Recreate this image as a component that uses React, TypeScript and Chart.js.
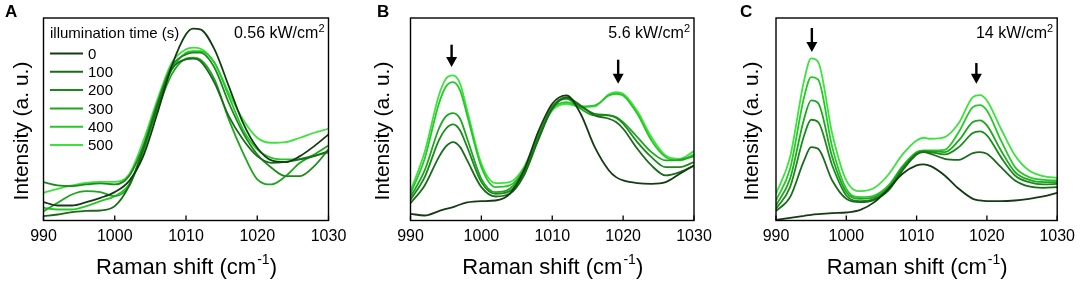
import React, { useEffect, useRef } from "react";
import { Chart, registerables } from "chart.js";
Chart.register(...registerables);

// ---------- shared ----------
const TIMES = ["0", "100", "200", "300", "400", "500"];
const COLORS = ["#143c14", "#1a6b1a", "#1b8a1b", "#1ea61e", "#26c826", "#3be33b"];
const X_MIN = 990;
const X_MAX = 1030;
const X_STEP = 10;
const Y_MAX = 607;
const LEGEND_TITLE = "illumination time (s)";
const X_TITLE = "Raman shift (cm";
const X_TITLE_SUP = "-1";
const Y_TITLE = "Intensity (a. u.)";

// ---------- panel A : 0.56 kW/cm2 ----------
const A_X = [990, 992, 994, 996, 998, 1000, 1002, 1004, 1006, 1008, 1010, 1011, 1012, 1014, 1016, 1018, 1020, 1022, 1024, 1026, 1028, 1030];
const A_T0 = [55, 45, 45, 55, 68, 85, 118, 193, 323, 463, 558, 575, 573, 513, 403, 293, 218, 180, 175, 193, 223, 258];
const A_T100 = [13, 18, 25, 29, 30, 43, 103, 213, 343, 453, 483, 485, 478, 413, 313, 243, 193, 173, 176, 183, 193, 208];
const A_T200 = [115, 105, 103, 108, 111, 108, 133, 223, 353, 463, 498, 503, 503, 458, 353, 263, 198, 158, 133, 133, 163, 213];
const A_T300 = [28, 53, 78, 88, 85, 73, 103, 213, 333, 438, 485, 488, 483, 423, 303, 203, 123, 108, 133, 173, 198, 225];
const A_T400 = [38, 33, 33, 43, 58, 73, 108, 203, 343, 453, 503, 508, 508, 473, 373, 273, 213, 188, 183, 185, 195, 203];
const A_T500 = [83, 95, 105, 113, 116, 116, 138, 238, 363, 473, 513, 518, 515, 473, 383, 303, 248, 233, 235, 248, 263, 275];

// ---------- panel B : 5.6 kW/cm2 ----------
const B_X = [990, 992, 994, 995, 996, 997, 998, 1000, 1002, 1004, 1006, 1008, 1010, 1012, 1014, 1016, 1018, 1019, 1020, 1022, 1024, 1026, 1028, 1030];
const B_T0 = [20, 15, 28, 35, 40, 48, 54, 58, 60, 80, 150, 265, 350, 375, 320, 220, 150, 130, 120, 112, 110, 115, 140, 165];
const B_T100 = [52, 105, 190, 222, 235, 220, 180, 100, 72, 80, 135, 240, 335, 368, 345, 315, 305, 295, 275, 215, 165, 135, 145, 165];
const B_T200 = [62, 130, 240, 275, 288, 270, 220, 115, 80, 88, 140, 245, 338, 370, 342, 320, 315, 308, 290, 235, 190, 160, 160, 175];
const B_T300 = [70, 150, 275, 312, 322, 305, 245, 125, 85, 95, 150, 252, 342, 365, 335, 315, 315, 310, 295, 250, 205, 180, 182, 192];
const B_T400 = [80, 185, 350, 402, 415, 390, 315, 160, 100, 105, 155, 255, 335, 355, 342, 345, 375, 380, 375, 320, 240, 190, 180, 198];
const B_T500 = [88, 205, 375, 425, 435, 410, 330, 170, 112, 115, 160, 255, 330, 350, 340, 342, 378, 385, 380, 328, 250, 195, 185, 208];
const B_ARROW_X = [995.8, 1019.3];
const B_ARROW_TOP = [527, 482];
const B_ARROW_TIP = [460, 410];

// ---------- panel C : 14 kW/cm2 ----------
const C_X = [990, 992, 994, 995, 996, 998, 1000, 1002, 1004, 1006, 1008, 1010, 1011, 1012, 1014, 1016, 1018, 1019, 1020, 1022, 1024, 1026, 1028, 1030];
const C_T0 = [2, 8, 14, 17, 19, 22, 24, 32, 55, 95, 140, 165, 168, 163, 135, 95, 65, 60, 58, 58, 60, 65, 72, 83];
const C_T100 = [28, 70, 180, 220, 215, 120, 65, 55, 62, 90, 150, 198, 205, 200, 185, 182, 202, 205, 200, 160, 120, 102, 98, 100];
const C_T200 = [35, 100, 255, 302, 295, 165, 75, 58, 65, 95, 155, 200, 207, 205, 198, 220, 262, 267, 255, 190, 135, 115, 108, 110];
const C_T300 = [45, 125, 305, 360, 352, 190, 85, 65, 70, 100, 160, 202, 208, 207, 205, 240, 295, 300, 285, 210, 145, 122, 115, 115];
const C_T400 = [60, 155, 370, 430, 422, 220, 95, 70, 75, 105, 163, 205, 210, 210, 212, 265, 340, 346, 330, 240, 160, 130, 122, 120];
const C_T500 = [80, 190, 420, 486, 475, 260, 120, 88, 98, 138, 198, 240, 248, 245, 250, 292, 370, 376, 360, 275, 195, 150, 133, 128];
const C_ARROW_X = [995.1, 1018.5];
const C_ARROW_TOP = [577, 472];
const C_ARROW_TIP = [505, 410];

const FONT = '"Liberation Sans", Arial, Helvetica, sans-serif';

type Panel = {
  letter: string;
  power: string;
  xs: number[];
  series: number[][];
  arrowX: number[];
  arrowTop: number[];
  arrowTip: number[];
  legend: boolean;
  left: number;
  width: number;
  padLeft: number;
  padRight: number;
  letterX: number;
  yTitleX: number;
};

const PANELS: Panel[] = [
  {
    letter: "A", power: "0.56 kW/cm", xs: A_X,
    series: [A_T0, A_T100, A_T200, A_T300, A_T400, A_T500],
    arrowX: [], arrowTop: [], arrowTip: [], legend: true,
    left: 0, width: 360, padLeft: 43.5, padRight: 31.5, letterX: 5, yTitleX: 22,
  },
  {
    letter: "B", power: "5.6 kW/cm", xs: B_X,
    series: [B_T0, B_T100, B_T200, B_T300, B_T400, B_T500],
    arrowX: B_ARROW_X, arrowTop: B_ARROW_TOP, arrowTip: B_ARROW_TIP, legend: false,
    left: 360, width: 360, padLeft: 50.5, padRight: 26, letterX: 17, yTitleX: 23,
  },
  {
    letter: "C", power: "14 kW/cm", xs: C_X,
    series: [C_T0, C_T100, C_T200, C_T300, C_T400, C_T500],
    arrowX: C_ARROW_X, arrowTop: C_ARROW_TOP, arrowTip: C_ARROW_TIP, legend: false,
    left: 720, width: 361, padLeft: 56, padRight: 20, letterX: 20, yTitleX: 32,
  },
];

function decorPlugin(p: Panel) {
  return {
    id: "decor",
    afterDraw(chart: any) {
      const { ctx, chartArea: a, scales } = chart;
      const xs = scales.x;
      const ys = scales.y;
      ctx.save();
      // frame
      ctx.strokeStyle = "#000";
      ctx.lineWidth = 1.4;
      ctx.strokeRect(a.left, a.top, a.right - a.left, a.bottom - a.top);
      // inward tick marks
      ctx.lineWidth = 1.3;
      for (const t of xs.ticks) {
        const px = xs.getPixelForValue(t.value);
        ctx.beginPath();
        ctx.moveTo(px, a.bottom);
        ctx.lineTo(px, a.bottom - 5);
        ctx.stroke();
      }
      ctx.fillStyle = "#000";
      // x title with superscript
      ctx.textBaseline = "alphabetic";
      ctx.textAlign = "left";
      ctx.font = `22px ${FONT}`;
      const w1 = ctx.measureText(X_TITLE).width;
      const w3 = ctx.measureText(")").width;
      ctx.font = `14px ${FONT}`;
      const w2 = ctx.measureText(X_TITLE_SUP).width;
      const x0 = (a.left + a.right) / 2 - (w1 + w2 + w3) / 2;
      const base = 274;
      ctx.font = `22px ${FONT}`;
      ctx.fillText(X_TITLE, x0, base);
      ctx.font = `14px ${FONT}`;
      ctx.fillText(X_TITLE_SUP, x0 + w1 + 1, base - 10);
      ctx.font = `22px ${FONT}`;
      ctx.fillText(")", x0 + w1 + w2 + 1, base);
      // y title
      ctx.save();
      ctx.translate(p.yTitleX, 131);
      ctx.rotate(-Math.PI / 2);
      ctx.textAlign = "center";
      ctx.textBaseline = "middle";
      ctx.font = `21px ${FONT}`;
      ctx.fillText(Y_TITLE, 0, 0);
      ctx.restore();
      // panel letter
      ctx.font = `bold 17px ${FONT}`;
      ctx.textAlign = "left";
      ctx.textBaseline = "alphabetic";
      ctx.fillText(p.letter, p.letterX, 17);
      // power label
      ctx.font = `11px ${FONT}`;
      const ws = ctx.measureText("2").width;
      ctx.font = `16px ${FONT}`;
      const wp = ctx.measureText(p.power).width;
      const pr = a.right - 4;
      ctx.fillText(p.power, pr - ws - wp, 38);
      ctx.font = `11px ${FONT}`;
      ctx.fillText("2", pr - ws, 32);
      // legend
      if (p.legend) {
        ctx.font = `15px ${FONT}`;
        ctx.textBaseline = "middle";
        ctx.fillText(LEGEND_TITLE, 50, 34);
        chart.data.datasets.forEach((ds: any, i: number) => {
          const y = 53.5 + 18.3 * i;
          ctx.strokeStyle = ds.borderColor;
          ctx.lineWidth = 2;
          ctx.beginPath();
          ctx.moveTo(50, y);
          ctx.lineTo(83, y);
          ctx.stroke();
          ctx.fillStyle = "#000";
          ctx.fillText(ds.label, 88, y + 1);
        });
      }
      // arrows
      ctx.strokeStyle = "#000";
      ctx.fillStyle = "#000";
      p.arrowX.forEach((ax, i) => {
        const px = xs.getPixelForValue(ax);
        const yt = ys.getPixelForValue(p.arrowTop[i]);
        const yb = ys.getPixelForValue(p.arrowTip[i]);
        ctx.lineWidth = 2.4;
        ctx.beginPath();
        ctx.moveTo(px, yt);
        ctx.lineTo(px, yb - 6);
        ctx.stroke();
        ctx.beginPath();
        ctx.moveTo(px - 5.5, yb - 10);
        ctx.lineTo(px + 5.5, yb - 10);
        ctx.lineTo(px, yb);
        ctx.closePath();
        ctx.fill();
      });
      ctx.restore();
    },
  };
}

function PanelChart({ p }: { p: Panel }) {
  const ref = useRef<HTMLCanvasElement | null>(null);
  useEffect(() => {
    if (!ref.current) return;
    const chart = new Chart(ref.current, {
      type: "line",
      data: {
        datasets: p.series.map((s, i) => ({
          label: TIMES[i],
          data: p.xs.map((x, j) => ({ x, y: s[j] })),
          borderColor: COLORS[i],
          backgroundColor: COLORS[i],
          borderWidth: 1.8,
          pointRadius: 0,
          cubicInterpolationMode: "monotone" as const,
          fill: false,
        })),
      },
      options: {
        responsive: false,
        animation: false,
        events: [],
        layout: { padding: { left: p.padLeft, right: p.padRight, top: 18, bottom: 0 } },
        plugins: { legend: { display: false }, tooltip: { enabled: false } },
        scales: {
          x: {
            type: "linear",
            min: X_MIN,
            max: X_MAX,
            afterFit: (scale: any) => {
              scale.height = 63.5;
            },
            grid: { display: false, drawTicks: false },
            border: { display: false },
            ticks: {
              stepSize: X_STEP,
              autoSkip: false,
              maxRotation: 0,
              padding: 6,
              color: "#000",
              font: { family: FONT, size: 16 },
              callback: (v: any) => String(v),
            },
          },
          y: { type: "linear", min: 0, max: Y_MAX, display: false },
        },
      },
      plugins: [decorPlugin(p)],
    });
    return () => chart.destroy();
  }, [p]);
  return (
    <canvas
      ref={ref}
      width={p.width}
      height={284}
      style={{ position: "absolute", left: p.left, top: 0, width: p.width, height: 284 }}
    />
  );
}

export default function App() {
  return (
    <div style={{ position: "absolute", left: 0, top: 0, width: 1081, height: 284, background: "#fff" }}>
      {PANELS.map((p) => (
        <PanelChart key={p.letter} p={p} />
      ))}
    </div>
  );
}
